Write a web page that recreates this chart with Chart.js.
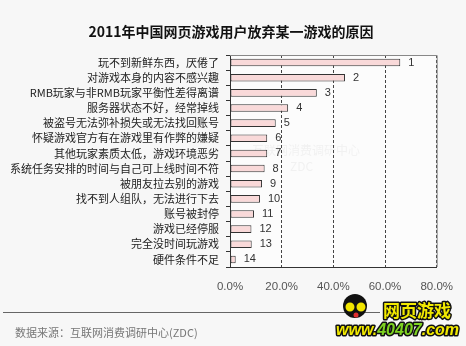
<!DOCTYPE html>
<html>
<head>
<meta charset="utf-8">
<script src="https://cdn.jsdelivr.net/npm/chart.js@4/dist/chart.umd.min.js"></script>
<style>
  body { margin: 0; background: #f7f7f7; }
  canvas { display: block; }
</style>
</head>
<body>
<canvas id="reasonsChart" width="466" height="346"></canvas>
<script>
// Reasons for dropping a web game, share of users (%)
const reasons = [
  "玩不到新鲜东西，厌倦了",
  "对游戏本身的内容不感兴趣",
  "RMB玩家与非RMB玩家平衡性差得离谱",
  "服务器状态不好，经常掉线",
  "被盗号无法弥补损失或无法找回账号",
  "怀疑游戏官方有在游戏里有作弊的嫌疑",
  "其他玩家素质太低，游戏环境恶劣",
  "系统任务安排的时间与自己可上线时间不符",
  "被朋友拉去别的游戏",
  "找不到人组队，无法进行下去",
  "账号被封停",
  "游戏已经停服",
  "完全没时间玩游戏",
  "硬件条件不足"
];
const shares = [65.9, 44.5, 33.6, 22.5, 17.7, 14.4, 14.4, 13.4, 12.4, 11.6, 9.3, 8.3, 8.4, 2.2];
const ranks = ["1", "2", "3", "4", "5", "6", "7", "8", "9", "10", "11", "12", "13", "14"];
const xTicks = [0, 20, 40, 60, 80];

const titleText = "2011年中国网页游戏用户放弃某一游戏的原因";
const sourceText = "数据来源：互联网消费调研中心(ZDC)";

const cjk = '"Noto Sans CJK SC", "Noto Sans", sans-serif';

// background, plot frame, rank labels, title, footer and logo
const decorations = {
  id: "decorations",
  beforeDraw(chart) {
    const { ctx, chartArea: a } = chart;
    ctx.save();
    ctx.fillStyle = "#f7f7f7";
    ctx.fillRect(0, 0, chart.width, chart.height);
    ctx.fillStyle = "#fcfcfc";
    ctx.fillRect(a.left, a.top, a.right - a.left, a.bottom - a.top);
    // faint watermark
    ctx.fillStyle = "rgba(150,150,150,0.1)";
    ctx.font = "12px " + cjk;
    ctx.textBaseline = "middle";
    ctx.fillText("互联网消费调研中心", 252, 150);
    ctx.fillText("ZDC", 290, 166);
    ctx.restore();
  },
  afterDraw(chart) {
    const { ctx, chartArea: a } = chart;
    const xs = chart.scales.x;
    const meta = chart.getDatasetMeta(0);
    ctx.save();

    // frame on top and right
    ctx.strokeStyle = "#888";
    ctx.lineWidth = 1;
    ctx.beginPath();
    ctx.moveTo(a.left, a.top + 0.5);
    ctx.lineTo(a.right + 0.5, a.top + 0.5);
    ctx.lineTo(a.right + 0.5, a.bottom);
    ctx.stroke();

    // rank numbers at bar ends
    ctx.fillStyle = "#333";
    ctx.font = "11px 'Liberation Sans', Arial, sans-serif";
    ctx.textBaseline = "middle";
    ctx.textAlign = "left";
    meta.data.forEach((bar, i) => {
      ctx.fillText(ranks[i], xs.getPixelForValue(shares[i]) + 8, bar.y);
    });

    // title
    ctx.fillStyle = "#111";
    ctx.font = "bold 14px " + cjk;
    ctx.textAlign = "center";
    ctx.fillText(titleText, 231, 32);

    // footer rule and source
    ctx.strokeStyle = "#666";
    ctx.lineWidth = 1.2;
    ctx.beginPath();
    ctx.moveTo(3, 312.5);
    ctx.lineTo(380, 312.5);
    ctx.stroke();
    ctx.fillStyle = "#777";
    ctx.font = "11px " + cjk;
    ctx.textAlign = "left";
    ctx.fillText(sourceText, 15, 333);

    // site logo
    ctx.fillStyle = "#111";
    ctx.beginPath();
    ctx.arc(355, 306, 12, 0, Math.PI * 2);
    ctx.fill();
    ctx.fillStyle = "#f2e600";
    ctx.beginPath();
    ctx.arc(350, 307, 4.5, 0, Math.PI * 2);
    ctx.arc(361, 307, 4.5, 0, Math.PI * 2);
    ctx.fill();
    ctx.fillStyle = "#e03030";
    ctx.beginPath();
    ctx.arc(356, 315, 2.5, 0, Math.PI * 2);
    ctx.fill();

    ctx.lineJoin = "round";
    ctx.font = "bold 17px " + cjk;
    ctx.lineWidth = 3;
    ctx.strokeStyle = "#111";
    ctx.strokeText("网页游戏", 383, 311);
    ctx.fillStyle = "#f2ea00";
    ctx.fillText("网页游戏", 383, 311);

    ctx.font = "italic bold 16px 'Liberation Sans', Arial, sans-serif";
    const parts = [["www.", "#f2ea00"], ["40407", "#7ed321"], [".com", "#f2ea00"]];
    let x = 336;
    parts.forEach(([t, c]) => {
      ctx.strokeText(t, x, 331);
      ctx.fillStyle = c;
      ctx.fillText(t, x, 331);
      x += ctx.measureText(t).width;
    });
    ctx.restore();
  }
};

new Chart(document.getElementById("reasonsChart"), {
  type: "bar",
  data: {
    labels: reasons,
    datasets: [{
      data: shares,
      backgroundColor: "#f9d9d9",
      borderColor: "#333",
      borderWidth: 1,
      borderSkipped: false,
      barPercentage: 0.5,
      categoryPercentage: 1
    }]
  },
  options: {
    indexAxis: "y",
    responsive: false,
    animation: false,
    devicePixelRatio: 1,
    layout: { padding: { left: 0, right: 25, top: 55, bottom: 0 } },
    plugins: {
      legend: { display: false },
      tooltip: { enabled: false }
    },
    scales: {
      x: {
        min: xTicks[0],
        max: xTicks[xTicks.length - 1],
        afterBuildTicks: (scale) => { scale.ticks = xTicks.map((v) => ({ value: v })); },
        afterFit: (scale) => { scale.height = 79; },
        ticks: {
          padding: 13,
          color: "#555",
          font: { family: "'Liberation Sans', Arial, sans-serif", size: 11.5 },
          callback: (v) => v.toFixed(1) + "%",
          maxRotation: 0
        },
        grid: { color: "#444", drawTicks: false, lineWidth: 1 },
        border: { color: "#333", dash: [3, 2] }
      },
      y: {
        afterFit: (scale) => { scale.width = 230; },
        ticks: {
          padding: 7,
          color: "#222",
          font: { family: cjk, size: 11 },
          autoSkip: false
        },
        grid: { drawOnChartArea: false, tickLength: 4, color: "#333" },
        border: { color: "#333" }
      }
    }
  },
  plugins: [decorations]
});
</script>
</body>
</html>
